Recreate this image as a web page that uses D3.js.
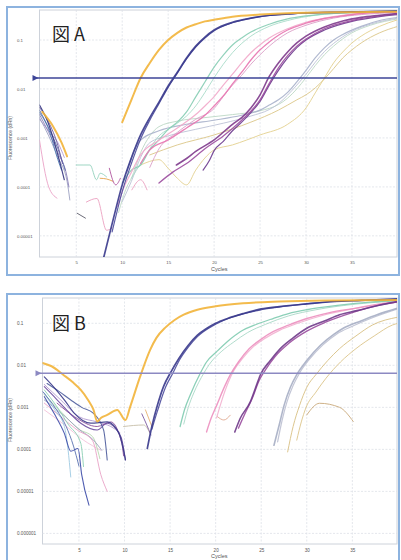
<!DOCTYPE html>
<html lang="ja">
<head>
<meta charset="UTF-8">
<script src="https://d3js.org/d3.v7.min.js"></script>
<style>
  body { margin: 0; background: #fff; }
  svg { display: block; }
  .frame { fill: #fff; stroke: #8db3df; stroke-width: 2px; }
  .plot-bg { fill: #fff; stroke: #cdd2da; stroke-width: 1px; }
  .grid line { stroke: #dde1e7; stroke-width: 0.8px; stroke-dasharray: 2,1.5; }
  .axis text { font-family: "Liberation Sans", sans-serif; fill: #555; }
  .axis-title { font-family: "Liberation Sans", sans-serif; fill: #555; }
  .curve { fill: none; stroke-linejoin: round; stroke-linecap: round; }
  .panel-title { font-family: "Noto Sans CJK JP", sans-serif; font-size: 18px; fill: #222; }
</style>
</head>
<body>
<svg width="401" height="560"></svg>
<script>
// ticks
var cycleTicks = [5, 10, 15, 20, 25, 30, 35];
var yTicksA = [0.1, 0.01, 0.001, 0.0001, 0.00001];
var yTicksB = [0.1, 0.01, 0.001, 0.0001, 0.00001, 0.000001];
var yLabelsA = ["0.1", "0.01", "0.001", "0.0001", "0.00001"];
var yLabelsB = ["0.1", "0.01", "0.001", "0.0001", "0.00001", "0.000001"];
var thresholds = [0.0168, 0.0065];

// panel A, [cycle, fluorescence]
var aOrange = [[10,2.1e-3],[11,6.0e-3],[12,1.68e-2],[13,3.4e-2],[14,6.3e-2],[15,0.1],[16,0.14],[17,0.18],[18,0.21],[19,0.24],[20,0.26],[22,0.30],[25,0.33],[30,0.36],[35,0.37],[40,0.38]];
var aOrangeEarly = [[1.3,3.4e-3],[2.5,1.7e-3],[3.4,8e-4],[4,4.2e-4]];
var aNavy = [[8,3.7e-6],[9,2.1e-5],[10,1.1e-4],[11,3.9e-4],[12,1.15e-3],[13,2.6e-3],[14,5.4e-3],[15,1.15e-2],[16,2.2e-2],[17,4.3e-2],[18,7.5e-2],[19,0.115],[20,0.16],[22,0.23],[24,0.28],[26,0.32],[28,0.34],[30,0.36],[35,0.37],[40,0.39]];
var aNavy2 = [[8.9,1.2e-5],[10,8e-5],[11,3e-4],[12,9.5e-4],[13,2.3e-3],[14,5e-3],[15,1.08e-2],[16,2.1e-2],[17,4.1e-2],[18,7.2e-2],[19,0.11],[20,0.155],[22,0.225],[25,0.3],[30,0.355],[40,0.39]];
var aTeal = [[10,1.2e-4],[11,2.2e-4],[12,2.8e-4],[13,5.7e-4],[14,9.1e-4],[15,1.5e-3],[16,2.1e-3],[17,3.4e-3],[18,6.9e-3],[19,1.39e-2],[20,2.8e-2],[21,4.9e-2],[22,7.9e-2],[23,0.11],[24,0.145],[26,0.21],[28,0.27],[30,0.31],[33,0.35],[36,0.37],[40,0.39]];
var aTeal2 = [[11,1.5e-4],[12,3e-4],[13,6e-4],[14,1.1e-3],[15,1.5e-3],[16,2.0e-3],[17,2.8e-3],[18,4.5e-3],[19,8.5e-3],[20,1.7e-2],[21,3.2e-2],[22,5.5e-2],[23,8.5e-2],[24,0.12],[26,0.19],[28,0.25],[31,0.32],[35,0.36],[40,0.38]];
var aPink1 = [[12,3e-4],[13,5.7e-4],[15,9.1e-4],[17,1.6e-3],[19,2.9e-3],[20,4.5e-3],[21,7.2e-3],[22,1.27e-2],[23,2.2e-2],[24,3.9e-2],[25,6.3e-2],[26,9.1e-2],[27,0.125],[28,0.16],[30,0.22],[32,0.275],[34,0.31],[37,0.36],[40,0.37]];
var aPink2 = [[9.5,4e-5],[10,8e-5],[11,2e-4],[12,4.5e-4],[14,9e-4],[16,1.6e-3],[18,3e-3],[19,4.5e-3],[20,7e-3],[21,1.2e-2],[22,2.0e-2],[23,3.4e-2],[24,5.5e-2],[25,8e-2],[26,0.11],[28,0.17],[30,0.23],[33,0.3],[36,0.35],[40,0.37]];
var aPink3 = [[13,2.5e-4],[14,6e-4],[16,1.3e-3],[18,2.4e-3],[20,4e-3],[21,7e-3],[22,1.2e-2],[23,1.9e-2],[24,3.2e-2],[25,5e-2],[26,7.5e-2],[28,0.14],[30,0.2],[33,0.28],[36,0.33],[40,0.36]];
var aPurple1 = [[15.9,2.8e-4],[17,3.8e-4],[18,5.3e-4],[20,9.1e-4],[22,1.9e-3],[23,2.6e-3],[24,4.1e-3],[25,7.6e-3],[26,1.8e-2],[27,3.4e-2],[28,5.7e-2],[29,8.7e-2],[30,0.12],[32,0.185],[34,0.245],[36,0.29],[38,0.32],[40,0.35]];
var aPurple2 = [[14,1.2e-4],[15.5,2e-4],[17,3e-4],[19,6e-4],[21,1.1e-3],[23,2.3e-3],[24,3.5e-3],[25,6e-3],[26,1.3e-2],[27,2.7e-2],[28,4.8e-2],[29,7.5e-2],[30,0.105],[32,0.17],[35,0.25],[38,0.31],[40,0.34]];
var aPurple3 = [[18.8,2.2e-4],[19.5,3.5e-4],[20,5.5e-4],[21,8.5e-4],[22,1.4e-3],[23,2.1e-3],[24,3.3e-3],[25,5.6e-3],[26,1.2e-2],[27,2.4e-2],[28,4.3e-2],[29,7e-2],[30,0.1],[32,0.16],[35,0.24],[38,0.3],[40,0.33]];
var aGrey1 = [[10.5,2e-4],[11.2,5e-4],[12,9e-4],[14,1.4e-3],[17,1.9e-3],[20,2.3e-3],[23,2.9e-3],[25,3.7e-3],[26,4.7e-3],[27,6e-3],[28,8.5e-3],[29,1.39e-2],[30,2.4e-2],[31,4.3e-2],[32,6.9e-2],[33,0.1],[34,0.13],[36,0.19],[38,0.25],[40,0.29]];
var aGrey2 = [[10,5e-5],[11,1.3e-4],[12,4e-4],[13,8e-4],[15,1.1e-3],[18,1.5e-3],[21,2.0e-3],[24,2.8e-3],[26,3.8e-3],[27,5e-3],[28,7.5e-3],[29,1.2e-2],[30,2e-2],[31,3.5e-2],[32,5.8e-2],[33,8.5e-2],[35,0.15],[37,0.21],[40,0.28]];
var aMint = [[9.6,3e-5],[10.5,1e-4],[11,1.5e-4],[12,5e-4],[13,1.1e-3],[14,1.7e-3],[16,2.2e-3],[19,2.6e-3],[22,3.0e-3],[25,3.6e-3],[27,4.8e-3],[28,6.5e-3],[29,1e-2],[30,1.7e-2],[31,3e-2],[32,5e-2],[33,7.5e-2],[35,0.14],[37,0.2],[40,0.27]];
var aYellow1 = [[12,2.8e-4],[14,3.6e-4],[15,2.4e-4],[16,1.5e-4],[17,1.1e-4],[18,2.2e-4],[19,3.9e-4],[20,5.7e-4],[22,7.2e-4],[25,1.15e-3],[28,1.9e-3],[30,4.1e-3],[31,8.3e-3],[32,1.68e-2],[33,3.4e-2],[34,5.7e-2],[35,8.7e-2],[36,0.12],[38,0.19],[40,0.26]];
var aYellow2 = [[13,4.5e-4],[16,7.2e-4],[20,1.15e-3],[24,2.1e-3],[27,3.7e-3],[29,6e-3],[30,7.6e-3],[31,1.05e-2],[32,1.6e-2],[33,2.6e-2],[34,4.3e-2],[35,6.3e-2],[36,8.7e-2],[38,0.14],[40,0.19]];
var aEarly1 = [[1,4.7e-3],[2,1.9e-3],[3,4.5e-4],[3.7,1.4e-4]];
var aEarly2 = [[1,3.7e-3],[2,1.6e-3],[3,6e-4],[3.8,2.2e-4]];
var aEarly3 = [[1,3e-3],[2,1.3e-3],[3,5e-4],[4,1.6e-4],[4.2,1e-4]];
var aEarly4 = [[1,2.6e-3],[2,1.1e-3],[3,4e-4],[4,1.3e-4],[4.3,5.4e-5]];
var aEarly5 = [[1,9e-4],[2,1e-4],[2.9,5.9e-5]];
var aEarly6 = [[1,4.2e-3],[2,2.1e-3],[3,7e-4],[3.5,3e-4]];
var aEarly7 = [[1,2.4e-3],[2,1.4e-3],[3,8e-4],[3.7,4e-4]];
var aEarly8 = [[1,3.3e-3],[2,1.5e-3],[3,3.6e-4],[3.4,2.2e-4]];
var aNoise1 = [[5.1,2.9e-5],[6,2.3e-5]];
var aNoise2 = [[5,2.8e-4],[6.5,2.8e-4],[7.2,1.4e-4],[7.6,1.9e-4],[8.3,1.6e-4]];
var aNoise3 = [[6.1,4.9e-5],[7.25,5.8e-5],[8.3,1.3e-5],[8.9,1.45e-5]];
var aNoise4 = [[7.6,1.5e-4],[8.3,1.45e-4],[9,1.3e-4]];
var aNoise5 = [[11.05,8.7e-5],[12,1.4e-4],[12.7,8.7e-5]];
var aNoise6 = [[8.6,2.4e-4],[9.3,1.1e-4],[9.8,1.5e-4]];

// panel B, [cycle, fluorescence]
var bOrange = [[1,1.14e-2],[2,9.5e-3],[3.3,5.9e-3],[4.3,4e-3],[5.2,2.6e-3],[6,1.5e-3],[6.6,8.7e-4],[7,4.6e-4],[7.4,5.6e-4],[8.1,6.6e-4],[9.2,8.7e-4],[10.1,5e-4],[10.6,1.0e-3],[11.7,5.3e-3],[12.8,2.3e-2],[13.5,4.5e-2],[14.5,8e-2],[15.5,0.12],[16.5,0.16],[18,0.21],[20,0.255],[23,0.3],[27,0.33],[32,0.35],[40,0.36]];
var bNavy = [[12.5,1.05e-4],[13,3.5e-4],[13.6,1.1e-3],[14.3,3.2e-3],[15.1,7e-3],[16,1.5e-2],[17,3e-2],[18,5.2e-2],[19,7.5e-2],[20,0.1],[21.3,0.13],[23,0.17],[25,0.22],[27,0.25],[30,0.29],[33,0.33],[36,0.35],[40,0.38]];
var bNavy2 = [[13,3e-4],[13.6,8e-4],[14.5,3e-3],[15.3,6.5e-3],[16,1.3e-2],[17,2.7e-2],[18,4.8e-2],[20,9.5e-2],[22,0.145],[25,0.21],[28,0.26],[32,0.32],[36,0.35],[40,0.37]];
var bTeal = [[16.1,3.5e-4],[16.6,9e-4],[17.2,1.95e-3],[18.3,6.4e-3],[19,1.2e-2],[20.1,2.1e-2],[21.3,3.7e-2],[22.7,6.3e-2],[24.5,9.5e-2],[26.3,0.13],[28,0.17],[30,0.21],[33.6,0.27],[37,0.32],[40,0.35]];
var bTeal2 = [[16.5,4e-4],[17,1e-3],[17.6,2.2e-3],[18.7,6.5e-3],[19.5,1.2e-2],[20.6,2.1e-2],[22,3.6e-2],[23.5,6e-2],[25.5,9.5e-2],[28,0.15],[31,0.21],[35,0.28],[40,0.34]];
var bPink1 = [[19,2.6e-4],[19.5,5.5e-4],[20.1,1.1e-3],[21,3.2e-3],[21.6,5.9e-3],[22.5,1.2e-2],[23.7,2.5e-2],[25,4.2e-2],[26.3,6.3e-2],[28,9e-2],[30,0.13],[32.5,0.18],[35.4,0.23],[38,0.29],[40,0.33]];
var bPink2 = [[20.1,5.6e-4],[20.6,1.3e-3],[21.4,4e-3],[22,7.5e-3],[23,1.5e-2],[24,2.6e-2],[25.5,4.5e-2],[27,6.8e-2],[29,0.1],[32,0.16],[35,0.22],[38,0.28],[40,0.32]];
var bPinkTail = [[20.2,6e-4],[20.9,5e-4],[21.6,6.5e-4]];
var bPurple1 = [[22.1,2.6e-4],[22.7,5.5e-4],[23.8,1.35e-3],[24.4,3e-3],[24.9,5.9e-3],[26,1.3e-2],[27.1,2.5e-2],[28.5,4.5e-2],[30,7.6e-2],[32,0.115],[33.6,0.16],[35.5,0.2],[37.3,0.25],[40,0.33]];
var bPurple2 = [[22.5,3.2e-4],[23.2,7e-4],[24,1.6e-3],[24.8,4.5e-3],[25.5,8e-3],[26.5,1.6e-2],[28,3.3e-2],[30,6.5e-2],[32,0.105],[35,0.18],[38,0.27],[40,0.32]];
var bGrey1 = [[26.4,1.25e-4],[27,4e-4],[27.5,1.1e-3],[28.2,3e-3],[28.9,6e-3],[30,1.3e-2],[31.5,3e-2],[33,5.5e-2],[34,7.6e-2],[36,0.115],[37.7,0.16],[40,0.23]];
var bGrey2 = [[26.8,1.5e-4],[27.3,5e-4],[27.8,1.3e-3],[28.5,3.3e-3],[29.2,6.5e-3],[30.3,1.4e-2],[31.8,3.1e-2],[33.3,5.6e-2],[35,8.5e-2],[37,0.13],[40,0.22]];
var bTan1 = [[27.9,8.7e-5],[28.5,3.5e-4],[29.2,1.1e-3],[30,3e-3],[31,6e-3],[32.3,1.3e-2],[33.6,2.5e-2],[35.4,5e-2],[37.2,9.1e-2],[40,0.14]];
var bTan2 = [[28.9,1.66e-4],[29.4,4.5e-4],[29.9,9.7e-4],[31,2.3e-3],[32.1,4.9e-3],[33.7,1.2e-2],[35.4,2.5e-2],[37.4,5e-2],[39.4,9.1e-2],[40,0.1]];
var bBrown = [[30,6.6e-4],[31.4,1.25e-3],[33.6,1.0e-3],[35.1,4.6e-4]];
var bEarly1 = [[1.2,5.3e-3],[2.5,2.6e-3],[3.5,1.4e-3],[4.5,7.2e-4],[6.3,4.2e-4],[8.1,4.5e-4],[9.4,2.4e-4],[10.1,5.6e-5]];
var bEarly2 = [[1.5,3.7e-3],[2.8,2.4e-3],[4.1,1.5e-3],[5.3,1.0e-3],[6.6,7.2e-4],[7.7,2.9e-4],[8.1,5.6e-5]];
var bEarly3 = [[1.2,3.1e-3],[2.5,1.6e-3],[3.8,8e-4],[5.2,4.2e-4],[7,2.9e-4],[8.1,4.2e-4],[9.6,2e-4],[10.1,5.6e-5]];
var bEarly4 = [[1.2,1.8e-3],[2.3,7e-4],[3.4,2.4e-4],[4.1,9e-5],[4.9,1.05e-4],[5.3,2.5e-5],[6.1,4.7e-6]];
var bEarly5 = [[1,2.4e-3],[2.5,9e-4],[3.6,3.5e-4],[4.4,1.2e-4],[5,4e-5]];
var bEarly6 = [[1.2,2.2e-3],[2.3,9e-4],[3.4,3.5e-4],[3.8,1e-4],[4.1,2.2e-5]];
var bEarly7 = [[1.2,2.6e-3],[2.5,1.1e-3],[3.8,4e-4],[5.2,1.4e-4],[5.5,3.9e-5]];
var bEarly8 = [[1.2,1.26e-3],[3,6e-4],[4.8,2.9e-4],[6.5,1.6e-4],[7.4,2.5e-5],[8.1,1e-5]];
var bEarly9 = [[1.2,8.7e-4],[3.3,4e-4],[5.5,1.66e-4],[7.4,9.5e-5]];
var bEarly10 = [[2.6,1.26e-3],[4.5,6e-4],[7,3.5e-4],[8.5,4.5e-4],[9.7,1.4e-4],[9.9,7e-5]];
var bEarly11 = [[1.2,1.5e-3],[3.5,6e-4],[5,3e-4],[6.6,1.66e-4],[7.5,9.5e-5]];
var bEarly12 = [[1.2,2e-3],[3,8e-4],[5,3e-4],[6.5,2e-4],[7.3,6e-5]];
var bEarly13 = [[1.2,3.5e-3],[3,1.5e-3],[5,6e-4],[7,4.5e-4],[8.5,3.5e-4],[9.5,2.5e-4]];
var bTanMid = [[9.9,3.5e-4],[12.1,3.8e-4],[12.8,2.4e-4]];
var bOrangeShort = [[12.3,8.7e-4],[13,3.5e-4]];
var bPurpleShort = [[11.9,7e-4],[12.4,4e-4],[12.9,2.2e-4]];

// drawing tables built from the arrays above
var curvesA = [
  { d: aEarly5, c: "#eaa2c6", w: 1 }, { d: aEarly7, c: "#b59bd1", w: 1 },
  { d: aEarly4, c: "#9da2c2", w: 1 }, { d: aEarly3, c: "#8b80b9", w: 1 },
  { d: aEarly2, c: "#5b6aa6", w: 1 }, { d: aEarly8, c: "#4c79b1", w: 1 },
  { d: aEarly6, c: "#6a5ba2", w: 1 }, { d: aEarly1, c: "#34347f", w: 1.2 },
  { d: aNoise1, c: "#5c5c6a", w: 1 }, { d: aNoise2, c: "#93d2bd", w: 1 },
  { d: aNoise3, c: "#eba0c0", w: 1 }, { d: aNoise4, c: "#e4a24a", w: 1 },
  { d: aNoise5, c: "#eba0c0", w: 1 }, { d: aNoise6, c: "#b0559e", w: 1 },
  { d: aYellow2, c: "#dcc788", w: 1 }, { d: aYellow1, c: "#e3d08e", w: 1 },
  { d: aMint, c: "#bcd8c5", w: 1 }, { d: aGrey2, c: "#bcc2d6", w: 1 },
  { d: aGrey1, c: "#a9b1cb", w: 1.2 },
  { d: aTeal2, c: "#a9dbc9", w: 1 }, { d: aTeal, c: "#86cdb4", w: 1.2 },
  { d: aPink3, c: "#dca0c8", w: 1 }, { d: aPink2, c: "#f2a8ca", w: 1.2 },
  { d: aPink1, c: "#e874b0", w: 1.3 },
  { d: aPurple3, c: "#6d3b8e", w: 1.2 }, { d: aPurple2, c: "#9b4d9e", w: 1.3 },
  { d: aPurple1, c: "#7e3a8c", w: 1.6 },
  { d: aNavy2, c: "#4b4b9c", w: 1.2 }, { d: aNavy, c: "#39398c", w: 1.7 },
  { d: aOrangeEarly, c: "#f2b43a", w: 2 }, { d: aOrange, c: "#f2b43a", w: 2 }
];
var curvesB = [
  { d: bEarly9, c: "#f3c2da", w: 1 }, { d: bEarly12, c: "#b8d8b0", w: 1 },
  { d: bEarly11, c: "#9ba1bd", w: 1 }, { d: bEarly8, c: "#e9a3c6", w: 1 },
  { d: bEarly7, c: "#8ccfb4", w: 1 }, { d: bEarly6, c: "#9fcae2", w: 1 },
  { d: bEarly13, c: "#b39bd2", w: 1 }, { d: bEarly10, c: "#8b4b9b", w: 1 },
  { d: bEarly5, c: "#5a72b0", w: 1 }, { d: bEarly4, c: "#3d4da9", w: 1.1 },
  { d: bEarly3, c: "#6b4b9f", w: 1.1 }, { d: bEarly2, c: "#4d5c9c", w: 1.1 },
  { d: bEarly1, c: "#3a3a8a", w: 1.2 },
  { d: bTanMid, c: "#c7bfa8", w: 1 }, { d: bOrangeShort, c: "#e8b070", w: 1 },
  { d: bPurpleShort, c: "#7b5aa0", w: 1 },
  { d: bBrown, c: "#c9a87a", w: 1 }, { d: bTan2, c: "#dcc48a", w: 1 },
  { d: bTan1, c: "#d8c083", w: 1 },
  { d: bGrey2, c: "#bcc0d2", w: 1.2 }, { d: bGrey1, c: "#a6aec4", w: 1.6 },
  { d: bTeal2, c: "#a8d8c6", w: 1 }, { d: bTeal, c: "#7fcbb0", w: 1.3 },
  { d: bPinkTail, c: "#e0a890", w: 1 }, { d: bPink2, c: "#f2b0cf", w: 1.2 },
  { d: bPink1, c: "#ec8fbf", w: 1.4 },
  { d: bPurple2, c: "#9a4c9e", w: 1.3 }, { d: bPurple1, c: "#6f3a8a", w: 1.6 },
  { d: bNavy2, c: "#4b4b9c", w: 1.2 }, { d: bNavy, c: "#39398c", w: 1.7 },
  { d: bOrange, c: "#f2b43a", w: 2 }
];

var panels = [
  { id: "A", title: "図 A", frame: [7, 7, 392, 268], left: 39.5, right: 397, top: 10, bottom: 257,
    yDomain: [3.7e-6, 0.41], yTicks: yTicksA, yLabels: yLabelsA, threshold: thresholds[0],
    thrColor: "#3d4597", curves: curvesA, titleY: 41, yTitleY: 138, xLabelY: 264, cyclesY: 271, fs: 4.3 },
  { id: "B", title: "図 B", frame: [7, 294, 392, 270], left: 42.5, right: 397, top: 298, bottom: 544,
    yDomain: [5.6e-7, 0.40], yTicks: yTicksB, yLabels: yLabelsB, threshold: thresholds[1],
    thrColor: "#8c89c2", curves: curvesB, titleY: 330, yTitleY: 420, xLabelY: 552, cyclesY: 558, fs: 4.6 }
];

var svg = d3.select("svg");

panels.forEach(function (p) {
  var g = svg.append("g");
  var x = d3.scaleLinear().domain([1, 39.9]).range([p.left, p.right]);
  var y = d3.scaleLog().domain(p.yDomain).range([p.bottom, p.top]);

  g.append("rect").attr("class", "frame")
    .attr("x", p.frame[0]).attr("y", p.frame[1])
    .attr("width", p.frame[2]).attr("height", p.frame[3]);

  g.append("rect").attr("class", "plot-bg")
    .attr("x", p.left).attr("y", p.top)
    .attr("width", p.right - p.left).attr("height", p.bottom - p.top);

  // grid
  var grid = g.append("g").attr("class", "grid");
  grid.selectAll(".vx").data(cycleTicks).join("line")
    .attr("x1", d => x(d)).attr("x2", d => x(d))
    .attr("y1", p.top).attr("y2", p.bottom);
  grid.selectAll(".hy").data(p.yTicks).join("line")
    .attr("x1", p.left).attr("x2", p.right)
    .attr("y1", d => y(d)).attr("y2", d => y(d));

  // axes (labels only)
  var xAxis = g.append("g").attr("class", "axis")
    .attr("transform", "translate(0," + (p.xLabelY - 3) + ")")
    .call(d3.axisBottom(x).tickValues(cycleTicks).tickSize(0).tickPadding(0));
  xAxis.select(".domain").remove();
  xAxis.selectAll("text").style("font-size", p.fs + "px").attr("dy", "0.71em");

  var yAxis = g.append("g").attr("class", "axis")
    .attr("transform", "translate(" + p.left + ",0)")
    .call(d3.axisLeft(y).tickValues(p.yTicks).tickSize(0)
      .tickFormat((d, i) => p.yLabels[i]));
  yAxis.select(".domain").remove();
  yAxis.selectAll("text").attr("text-anchor", "start").attr("x", 17 - p.left)
    .style("font-size", p.fs + "px");

  g.append("text").attr("class", "axis-title")
    .attr("x", 211).attr("y", p.cyclesY)
    .style("font-size", "5.5px").text("Cycles");

  g.append("text").attr("class", "axis-title")
    .attr("transform", "translate(12," + p.yTitleY + ") rotate(-90)")
    .attr("text-anchor", "middle")
    .style("font-size", "5px").text("Fluorescence (dRn)");

  // curves
  var clipId = "clip" + p.id;
  g.append("clipPath").attr("id", clipId).append("rect")
    .attr("x", p.left).attr("y", p.top)
    .attr("width", p.right - p.left).attr("height", p.bottom - p.top);

  var line = d3.line()
    .x(d => x(d[0])).y(d => y(d[1]))
    .curve(d3.curveMonotoneX);

  g.append("g").attr("clip-path", "url(#" + clipId + ")")
    .selectAll("path").data(p.curves).join("path")
    .attr("class", "curve")
    .attr("d", d => line(d.d))
    .attr("stroke", d => d.c)
    .attr("stroke-width", d => d.w)
    .attr("stroke-opacity", 0.9);

  // threshold
  var ty = y(p.threshold);
  g.append("line")
    .attr("x1", p.left - 5).attr("x2", p.right)
    .attr("y1", ty).attr("y2", ty)
    .attr("stroke", p.thrColor).attr("stroke-width", 1.6);
  g.append("path")
    .attr("d", "M" + (p.left - 7) + "," + (ty - 3) + "L" + (p.left - 1) + "," + ty + "L" + (p.left - 7) + "," + (ty + 3) + "Z")
    .attr("fill", p.thrColor);

  g.append("text").attr("class", "panel-title")
    .attr("x", 52).attr("y", p.titleY).text(p.title);
});
</script>
</body>
</html>
